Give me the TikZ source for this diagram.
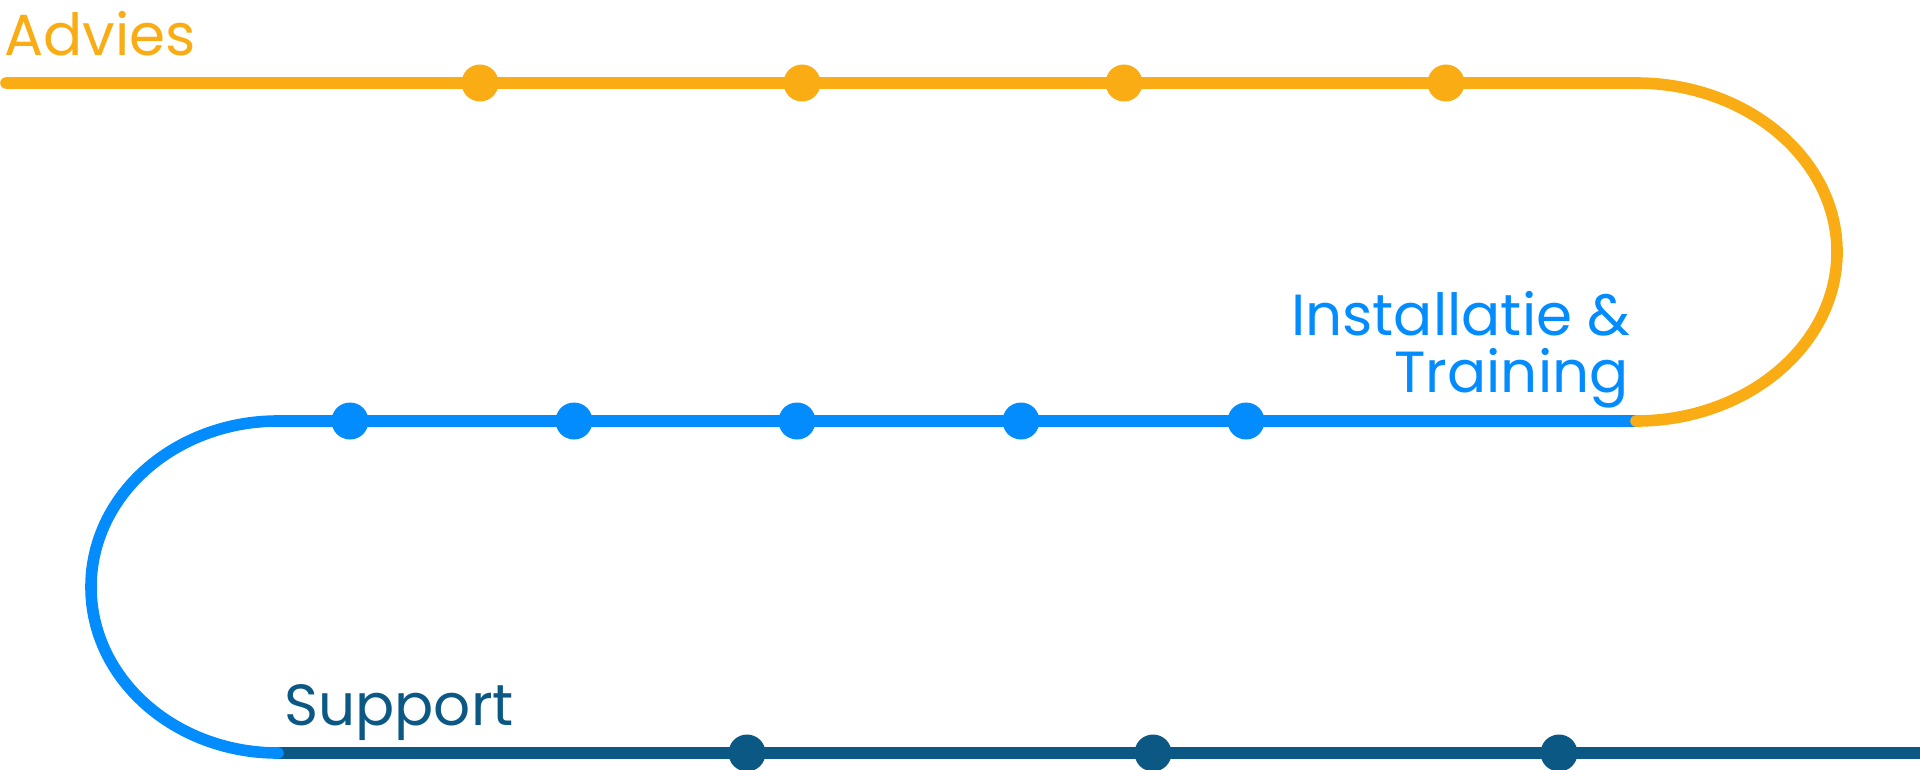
\documentclass[tikz,border=0pt]{standalone}
\usepackage{fontspec}
\setmainfont{Poppins}
\definecolor{advies}{HTML}{F9AC14}
\definecolor{install}{HTML}{028CFD}
\definecolor{support}{HTML}{0B5884}
\begin{document}
\begin{tikzpicture}[x=0.5pt,y=-0.5pt,
        route/.style={line width=5.8pt, line cap=round},
        halte/.style={circle, fill=#1, inner sep=0pt, minimum size=18.5pt},
        titel/.style={inner sep=0pt, text=#1, font=\fontsize{29}{35}\selectfont}]
        \useasboundingbox (0,0) rectangle (1920,770);
        \clip (0,0) rectangle (1920,770);

        % ends and turns of the route
        \coordinate (start) at (6,83);
        \coordinate (turnA) at (1636,83);
        \coordinate (turnB) at (1636,421);
        \coordinate (turnC) at (278,421);
        \coordinate (turnD) at (278,753);
        \coordinate (finish) at (1940,753);

        \draw[route, support] (turnD) -- (finish);
        \draw[route, install] (turnB) -- (turnC) .. controls (175,421) and (91,495) .. (91,587)
            .. controls (91,679) and (175,753) .. (turnD);
        \draw[route, advies] (start) -- (turnA) .. controls (1747,83) and (1837,159) .. (1837,252)
            .. controls (1837,345) and (1747,421) .. (turnB);

        % stops
        \node[halte=advies] (a1) at (480,83) {};
        \node[halte=advies] (a2) at (802,83) {};
        \node[halte=advies] (a3) at (1124,83) {};
        \node[halte=advies] (a4) at (1446,83) {};
        \node[halte=install] (b1) at (350,421) {};
        \node[halte=install] (b2) at (574,421) {};
        \node[halte=install] (b3) at (797,421) {};
        \node[halte=install] (b4) at (1021,421) {};
        \node[halte=install] (b5) at (1246,421) {};
        \node[halte=support] (c1) at (747,753) {};
        \node[halte=support] (c2) at (1153,753) {};
        \node[halte=support] (c3) at (1559,753) {};

        % titles
        \node[titel=advies, anchor=base west] (advies) at (4,56) {Advies};
        \node[titel=install, anchor=base east] (installatie) at (1631,335) {Installatie \&};
        \node[titel=install, anchor=base east] (training) at (1629,392) {Training};
        \node[titel=support, anchor=base west] (support) at (284,725) {Support};
\end{tikzpicture}
\end{document}
